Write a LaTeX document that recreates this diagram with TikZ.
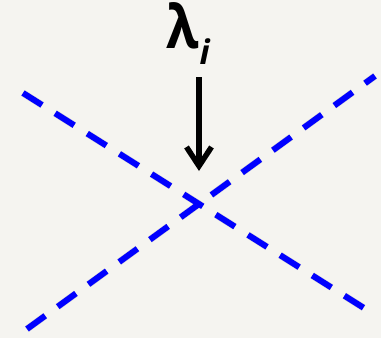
\documentclass[tikz,border=0pt]{standalone}
\usepackage{fontspec}
\setmainfont{Open Sans}
\usetikzlibrary{arrows.meta}
\definecolor{bg}{HTML}{F5F4F0}
\definecolor{dblue}{HTML}{0000FF}
\tikzset{
  dline/.style={draw=dblue, line width=6pt, dash pattern=on 22.5pt off 15.5pt, line cap=butt},
  dshadow/.style={draw=black, opacity=0.12, line width=7pt, dash pattern=on 22.5pt off 15.5pt, line cap=butt},
  bigarrow/.style={draw=black, line width=5.5pt, -{Straight Barb[length=19pt,width=25pt,line width=5.5pt]}},
}
\begin{document}
\begin{tikzpicture}[x=1pt,y=-1pt]
\fill[bg] (0,0) rectangle (381,338);
\useasboundingbox (0,0) rectangle (381,338);
\coordinate (a1) at (23,93);
\coordinate (a2) at (375,315);
\coordinate (b1) at (27,329);
\coordinate (b2) at (375,76);
\coordinate (s) at (199,77);
\coordinate (t) at (199,171);
% shadows
\begin{scope}[shift={(1.5,2.5)}]
\path[dshadow] (a1) -- (a2);
\path[dshadow] (b1) -- (b2);
\end{scope}
\path[dline] (a1) -- (a2);
\path[dline] (b1) -- (b2);
\path[bigarrow] (s) -- (t);
\node[anchor=base west, inner sep=0pt] (lam) at (166,48) {\fontsize{60}{66}\selectfont\bfseries\scalebox{0.88}[1]{λ}\kern1pt\raisebox{-16pt}{\fontsize{34}{40}\selectfont\bfseries\itshape i}};
\end{tikzpicture}
\end{document}
